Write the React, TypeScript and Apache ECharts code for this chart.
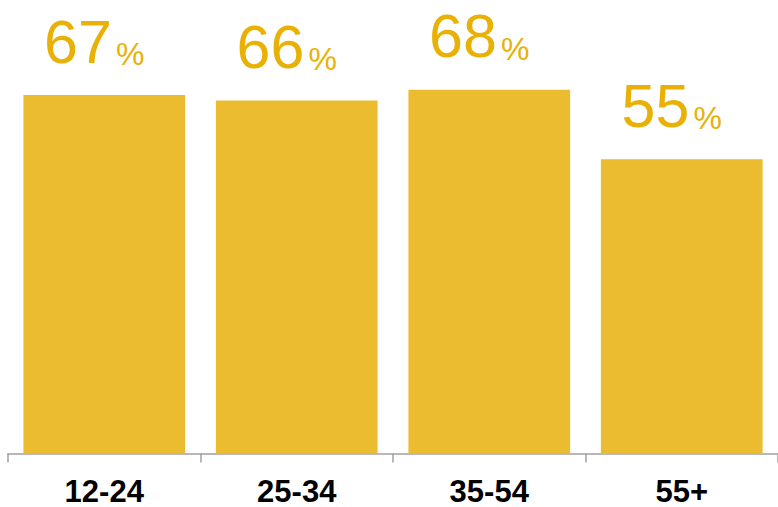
import React, { useEffect, useRef } from "react";
import * as echarts from "echarts";

const categories = ["12-24", "25-34", "35-54", "55+"];
const values = [67, 66, 68, 55];

const BAR_COLOR = "#EBBC30";
const LABEL_COLOR = "#E9B106";

export default function App() {
  const ref = useRef<HTMLDivElement>(null);
  useEffect(() => {
    if (!ref.current) return;
    const chart = echarts.init(ref.current, null, { renderer: "svg" });
    chart.setOption({
      animation: false,
      grid: { left: 8, right: 0, top: 25.5, bottom: 53.5, containLabel: false },
      xAxis: {
        type: "category",
        data: categories,
        axisLine: { show: true, lineStyle: { color: "#A0A0A0", width: 1.5 } },
        axisTick: { show: true, length: 9, lineStyle: { color: "#A0A0A0", width: 1.5 } },
        axisLabel: {
          color: "#000",
          fontFamily: "Liberation Sans, Arial, sans-serif",
          fontWeight: "bold",
          fontSize: 31,
          margin: 22,
        },
      },
      yAxis: {
        type: "value",
        min: 0,
        max: 80,
        show: false,
        splitLine: { show: false },
      },
      series: [
        {
          type: "bar",
          data: values,
          barWidth: "84%",
          itemStyle: { color: BAR_COLOR },
          label: {
            show: true,
            position: "top",
            distance: 23,
            offset: [-10, 0],
            formatter: (p: any) => `{n|${p.value}}{p|%}`,
            rich: {
              n: {
                fontSize: 61,
                color: LABEL_COLOR,
                fontFamily: "Liberation Sans, Arial, sans-serif",
                lineHeight: 61,
                verticalAlign: "bottom",
              },
              p: {
                fontSize: 32,
                color: LABEL_COLOR,
                fontFamily: "Liberation Sans, Arial, sans-serif",
                lineHeight: 32,
                padding: [0, 0, 2, 4],
                verticalAlign: "bottom",
              },
            },
          },
        },
      ],
    });
    return () => chart.dispose();
  }, []);
  return (
    <div
      ref={ref}
      style={{ position: "absolute", left: 0, top: 0, width: 778, height: 507 }}
    />
  );
}
